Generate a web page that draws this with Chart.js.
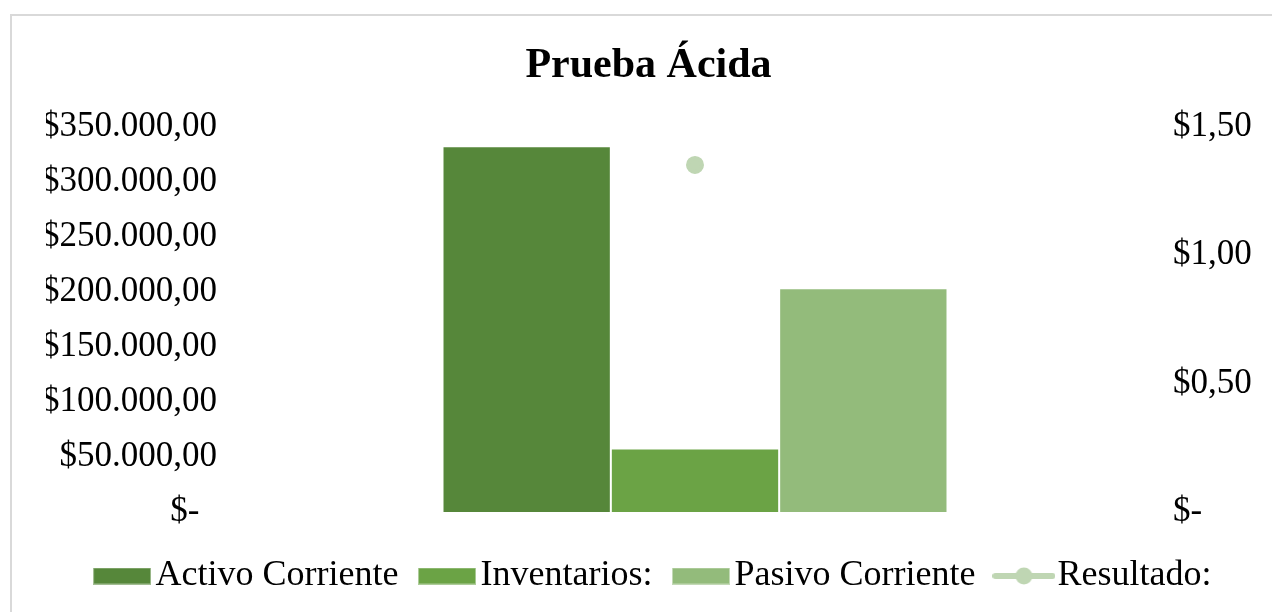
<!DOCTYPE html>
<html>
<head>
<meta charset="utf-8">
<script src="https://cdn.jsdelivr.net/npm/chart.js@4"></script>
<style>
  html, body { margin: 0; padding: 0; background: #fff; }
  #wrap { position: relative; width: 1272px; height: 612px; overflow: hidden; }
  #frame { position: absolute; left: 10px; top: 14px; width: 1300px; height: 700px;
           border: 2px solid #d9d9d9; box-sizing: border-box; }
  canvas { position: absolute; left: 0; top: 0; }
</style>
</head>
<body>
<div id="wrap">
  <div id="frame"></div>
  <canvas id="grafico" width="1272" height="612"></canvas>
</div>
<script>
// datos
const categorias = [''];
const activoCorriente = [332000];
const inventarios = [57600];
const pasivoCorriente = [203000];
const resultado = [1.35];

const ticksIzq = [0, 50000, 100000, 150000, 200000, 250000, 300000, 350000];
const ticksDer = [0, 0.5, 1, 1.5];

const COLORES = {
  activo: '#56873a',
  inventarios: '#6ba345',
  pasivo: '#93bb7b',
  resultado: '#bfd6b3'
};

const FUENTE = "'Liberation Serif', 'Times New Roman', serif";

// formato $350.000,00 / $-
function dinero(v) {
  if (v === 0) return '$-';
  const partes = v.toFixed(2).split('.');
  const entero = partes[0].replace(/\B(?=(\d{3})+(?!\d))/g, '.');
  return '$' + entero + ',' + partes[1];
}

// iconos de leyenda (caja para barras, línea + marcador para la serie de línea)
function iconoCaja(color) {
  const c = document.createElement('canvas');
  c.width = 58; c.height = 17;
  const g = c.getContext('2d');
  g.fillStyle = color;
  g.fillRect(0, 0, 58, 17);
  g.strokeStyle = 'rgba(255,255,255,0.45)';
  g.lineWidth = 1;
  g.strokeRect(0.5, 0.5, 57, 16);
  return c;
}
function iconoLinea(color) {
  const w = 63, h = 18;
  const c = document.createElement('canvas');
  c.width = w; c.height = h;
  const g = c.getContext('2d');
  g.strokeStyle = color;
  g.lineWidth = 6;
  g.lineCap = 'round';
  g.beginPath();
  g.moveTo(3, h / 2);
  g.lineTo(w - 3, h / 2);
  g.stroke();
  g.fillStyle = color;
  g.beginPath();
  g.arc(w / 2, h / 2, 8.5, 0, Math.PI * 2);
  g.fill();
  return c;
}

new Chart(document.getElementById('grafico'), {
  type: 'bar',
  data: {
    labels: categorias,
    datasets: [
      { label: 'Activo Corriente', data: activoCorriente, backgroundColor: COLORES.activo,
        borderColor: 'rgba(255,255,255,0.5)', borderWidth: 1, yAxisID: 'y', order: 2 },
      { label: 'Inventarios:', data: inventarios, backgroundColor: COLORES.inventarios,
        borderColor: 'rgba(255,255,255,0.5)', borderWidth: 1, yAxisID: 'y', order: 2 },
      { label: 'Pasivo Corriente', data: pasivoCorriente, backgroundColor: COLORES.pasivo,
        borderColor: 'rgba(255,255,255,0.5)', borderWidth: 1, yAxisID: 'y', order: 2 },
      { type: 'line', label: 'Resultado:', data: resultado, yAxisID: 'y1', order: 1,
        borderColor: COLORES.resultado, backgroundColor: COLORES.resultado,
        borderWidth: 4, pointRadius: 7, pointStyle: 'circle', showLine: false }
    ]
  },
  options: {
    responsive: false,
    animation: false,
    layout: { padding: { left: 46, right: 0, top: 0, bottom: 8 } },
    datasets: {
      bar: { barPercentage: 1, categoryPercentage: 0.543 }
    },
    scales: {
      x: {
        display: true,
        grid: { display: false },
        border: { display: false },
        ticks: { display: false },
        afterFit: s => { s.height = 13; }
      },
      y: {
        position: 'left',
        min: 0, max: 350000,
        grid: { display: false, drawTicks: false },
        border: { display: false },
        afterBuildTicks: s => { s.ticks = ticksIzq.map(v => ({ value: v })); },
        afterFit: s => { s.width = 184; },
        ticks: {
          autoSkip: false,
          padding: 13,
          color: '#000',
          font: { family: FUENTE, size: 35 },
          callback: v => v === 0 ? '$-  ' : dinero(v)
        }
      },
      y1: {
        position: 'right',
        min: 0, max: 1.5,
        grid: { display: false, drawTicks: false },
        border: { display: false },
        afterBuildTicks: s => { s.ticks = ticksDer.map(v => ({ value: v })); },
        afterFit: s => { s.width = 112; },
        ticks: {
          autoSkip: false,
          padding: 13,
          color: '#000',
          font: { family: FUENTE, size: 35 },
          callback: v => dinero(v)
        }
      }
    },
    plugins: {
      title: {
        display: true,
        text: 'Prueba Ácida  ',
        color: '#000',
        font: { family: FUENTE, size: 42, weight: 'bold' },
        padding: { top: 41, bottom: 35 }
      },
      legend: {
        position: 'bottom',
        labels: {
          color: '#000',
          font: { family: FUENTE, size: 36 },
          padding: 33,
          usePointStyle: true,
          pointStyleWidth: 31,
          boxHeight: 17,
          generateLabels: chart => chart.data.datasets.map((ds, i) => ({
            text: ds.label,
            fillStyle: ds.backgroundColor,
            strokeStyle: ds.backgroundColor,
            lineWidth: 0,
            pointStyle: ds.type === 'line' ? iconoLinea(ds.backgroundColor) : iconoCaja(ds.backgroundColor),
            fontColor: '#000',
            hidden: false,
            datasetIndex: i
          }))
        }
      },
      tooltip: { enabled: false }
    }
  }
});
</script>
</body>
</html>
